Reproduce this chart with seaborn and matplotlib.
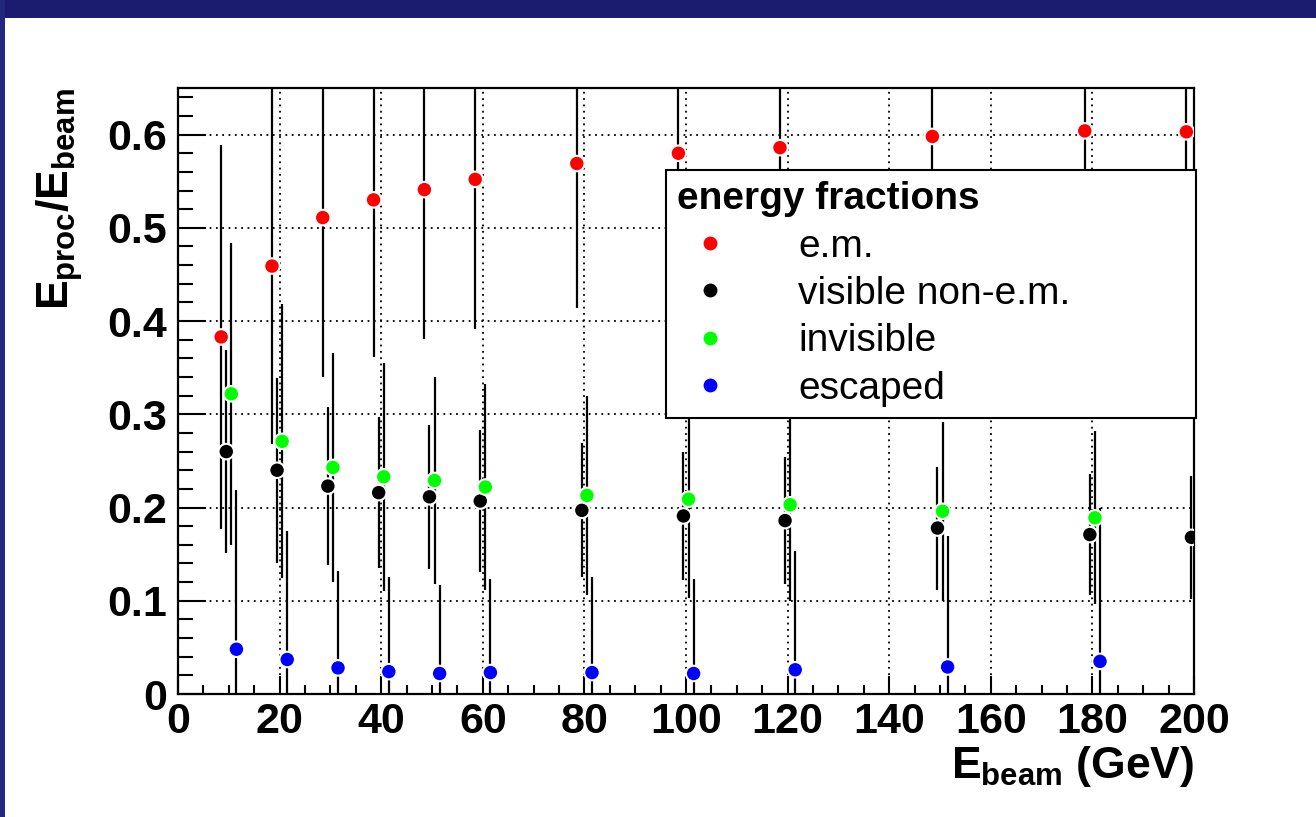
import numpy as np
import pandas as pd
import seaborn as sns
import matplotlib
matplotlib.use("Agg")
import matplotlib.pyplot as plt
from matplotlib.lines import Line2D
from matplotlib.patches import Rectangle
from matplotlib.ticker import MultipleLocator

# ---------------- data ----------------
energies = [10, 20, 30, 40, 50, 60, 80, 100, 120, 150, 180, 200]

em = [0.383, 0.459, 0.511, 0.530, 0.541, 0.552, 0.569, 0.580, 0.586, 0.598, 0.604, 0.603]
em_err = [0.206, 0.191, 0.171, 0.169, 0.160, 0.160, 0.155, 0.150, 0.150, 0.148, 0.147, 0.146]

vis = [0.260, 0.240, 0.223, 0.216, 0.2115, 0.207, 0.197, 0.191, 0.186, 0.178, 0.171, 0.168]
vis_err = [0.109, 0.099, 0.085, 0.081, 0.077, 0.076, 0.072, 0.069, 0.068, 0.066, 0.065, 0.066]

inv = [0.322, 0.271, 0.243, 0.233, 0.229, 0.222, 0.213, 0.209, 0.203, 0.196, 0.189]
inv_err = [0.162, 0.147, 0.123, 0.122, 0.111, 0.110, 0.107, 0.106, 0.103, 0.096, 0.093]

esc = [0.048, 0.037, 0.028, 0.024, 0.022, 0.023, 0.023, 0.022, 0.026, 0.029, 0.035]
esc_err = [0.171, 0.138, 0.104, 0.101, 0.095, 0.100, 0.102, 0.101, 0.127, 0.141, 0.165]

labels = ["e.m.", "visible non-e.m.", "invisible", "escaped"]
xtick_vals = [0, 20, 40, 60, 80, 100, 120, 140, 160, 180, 200]
ytick_vals = [0, 0.1, 0.2, 0.3, 0.4, 0.5, 0.6]
ytick_labels = ["0", "0.1", "0.2", "0.3", "0.4", "0.5", "0.6"]

# ---------------- style ----------------
colors = {"e.m.": "#ff0000", "visible non-e.m.": "#000000",
          "invisible": "#00ff00", "escaped": "#0000ff"}
dodge = {"e.m.": -1.5, "visible non-e.m.": -0.5, "invisible": 0.5, "escaped": 1.5}

series = {
    "e.m.": (em, em_err),
    "visible non-e.m.": (vis, vis_err),
    "invisible": (inv, inv_err),
    "escaped": (esc, esc_err),
}
rows = []
for name, (vals, errs) in series.items():
    for e, v, s in zip(energies, vals, errs):
        rows.append({"component": name, "energy": e, "value": v, "err": s,
                     "xpos": e + dodge[name]})
df = pd.DataFrame(rows)

sns.set_theme(style="white")
plt.rcParams["font.family"] = ["Liberation Sans", "DejaVu Sans"]
plt.rcParams["text.color"] = "black"
plt.rcParams["axes.labelcolor"] = "black"
plt.rcParams["legend.labelcolor"] = "black"
plt.rcParams["mathtext.fontset"] = "custom"
for k in ("rm", "it", "bf", "sf"):
    plt.rcParams["mathtext." + k] = "Liberation Sans:bold"

fig = plt.figure(figsize=(13.16, 8.17), dpi=100)
fig.patch.set_facecolor("white")
ax = fig.add_axes([178 / 1316, 1 - 694 / 817, 1016 / 1316, 606 / 817])

# frame bands
fig.add_artist(Rectangle((0, 1 - 18 / 817), 1, 18 / 817, transform=fig.transFigure,
                         facecolor="#1b1b70", edgecolor="none", zorder=10))
fig.add_artist(Rectangle((0, 0), 5 / 1316, 1, transform=fig.transFigure,
                         facecolor="#22287e", edgecolor="none", zorder=10))

# error bars
for name in labels:
    sub = df[df.component == name]
    ax.errorbar(sub.xpos, sub.value, yerr=sub.err, fmt="none", ecolor="black",
                elinewidth=1.6, capsize=0, zorder=2)

# markers
sns.scatterplot(data=df, x="xpos", y="value", hue="component", hue_order=labels,
                palette=colors, s=125, edgecolor="white", linewidth=1.5,
                legend=False, zorder=3, ax=ax)

ax.set_xlim(0, 200)
ax.set_ylim(0, 0.65)
ax.set_xticks(xtick_vals)
ax.set_xticklabels([str(v) for v in xtick_vals])
ax.set_yticks(ytick_vals)
ax.set_yticklabels(ytick_labels)
ax.xaxis.set_minor_locator(MultipleLocator(5))
ax.yaxis.set_minor_locator(MultipleLocator(0.02))

ax.tick_params(which="both", direction="in", left=True, bottom=True, top=False,
               right=False, width=1.5, color="black", labelcolor="black")
ax.tick_params(axis="y", which="major", length=20, pad=8, labelsize=31)
ax.tick_params(axis="y", which="minor", length=11)
ax.tick_params(axis="x", which="major", length=13, pad=6, labelsize=31)
ax.tick_params(axis="x", which="minor", length=6.5)
for lab in ax.get_xticklabels() + ax.get_yticklabels():
    lab.set_fontweight("bold")

ax.grid(True, which="major", color="black", linestyle=(0, (1, 2.5)), linewidth=1.3)
ax.set_axisbelow(True)
for sp in ax.spines.values():
    sp.set_visible(True)
    sp.set_color("black")
    sp.set_linewidth(1.6)

ax.set_xlabel(r"$E_{beam}$ (GeV)", loc="right", fontsize=32, fontweight="bold",
              color="black")
ax.xaxis.set_label_coords(1.0, -0.082)
ax.set_ylabel(r"$E_{proc}/E_{beam}$", loc="top", fontsize=32, fontweight="bold",
              color="black")
ax.yaxis.set_label_coords(-0.092, 1.0)

handles = [Line2D([0], [0], marker="o", ls="none", markerfacecolor=colors[n],
                  markeredgecolor="white", markeredgewidth=1.0, markersize=11)
           for n in labels]
leg = ax.legend(handles, labels, title="energy fractions", loc="upper left",
                bbox_to_anchor=(0.480, 0.46, 0.522, 0.405), mode="expand",
                fontsize=28, title_fontproperties={"weight": "bold", "size": 28},
                frameon=True, fancybox=False, edgecolor="black", framealpha=1,
                borderpad=0.3, handlelength=1.7, handletextpad=1.4,
                labelspacing=0.29, alignment="left", borderaxespad=0)
leg.get_frame().set_linewidth(1.5)
leg.get_title().set_color("black")
for t in leg.get_texts():
    t.set_color("black")
leg.set_zorder(5)

fig.savefig("out.png", dpi=100)
